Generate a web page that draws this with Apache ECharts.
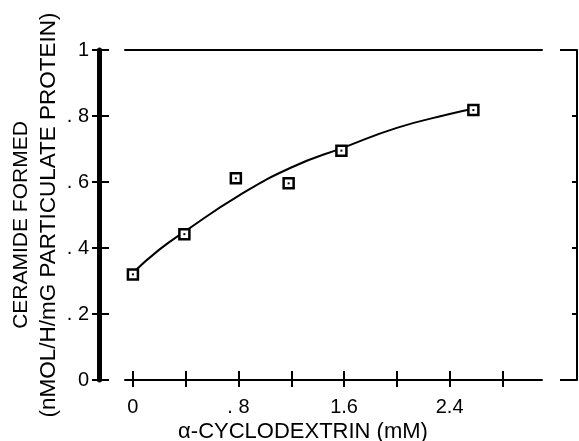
<!DOCTYPE html>
<html><head><meta charset="utf-8">
<script src="https://cdn.jsdelivr.net/npm/echarts@6/dist/echarts.min.js"></script>
<style>html,body{margin:0;padding:0;background:#fff}#c{width:579px;height:441px}</style>
</head><body><div id="c"></div>
<script>
// Data points (alpha-cyclodextrin mM, ceramide formed)
const pointX = [0, 0.39, 0.78, 1.18, 1.58, 2.58];
const pointY = [0.32, 0.442, 0.611, 0.596, 0.695, 0.818];
// Fitted curve
const curveX = [0, 0.2, 0.4, 0.8, 1.2, 1.6, 2.0, 2.4, 2.58];
const curveY = [0.325, 0.395, 0.452, 0.558, 0.644, 0.705, 0.764, 0.806, 0.822];
// Ticks and labels
const xTickValues = [0, 0.4, 0.8, 1.2, 1.6, 2.0, 2.4, 2.8];
const xLabelValues = [0, 0.8, 1.6, 2.4];
const xLabelTexts = ['0', '. 8', '1.6', '2.4'];
const yLabelValues = [0, 0.2, 0.4, 0.6, 0.8, 1];
const yLabelTexts = ['0', '. 2', '. 4', '. 6', '. 8', '1'];
const yRightTickValues = [0.2, 0.4, 0.6, 0.8];
const yRightEndValues = [0, 1];
const xTitle = 'α-CYCLODEXTRIN (mM)';
const yTitle1 = 'CERAMIDE FORMED';
const yTitle2 = '(nMOL/H/mG PARTICULATE PROTEIN)';

const FONT = "'Liberation Sans', Arial, sans-serif";
const BLACK = '#000';
function lookup(vals, texts) {
  return function (v) {
    const i = vals.findIndex(t => Math.abs(t - v) < 1e-6);
    return i >= 0 ? texts[i] : '';
  };
}
const points = pointX.map((x, i) => [x, pointY[i]]);
const curve = curveX.map((x, i) => [x, curveY[i]]);
const gridRect = { left: 125, right: 37, top: 50, bottom: 61, containLabel: false, outerBoundsMode: 'none' };
const XMIN = -0.06, XMAX = 3.1;

const chart = echarts.init(document.getElementById('c'), null, { renderer: 'canvas' });
chart.setOption({
  animation: false,
  backgroundColor: '#fff',
  grid: [
    Object.assign({}, gridRect),
    Object.assign({}, gridRect)
  ],
  xAxis: [
    {
      gridIndex: 0, type: 'value', position: 'bottom', min: XMIN, max: XMAX,
      axisLine: { show: true, onZero: false, lineStyle: { color: BLACK, width: 2 } },
      axisTick: { show: true, inside: false, length: 7, customValues: xTickValues, lineStyle: { color: BLACK, width: 2 } },
      axisLabel: { show: true, customValues: xLabelValues, formatter: lookup(xLabelValues, xLabelTexts),
        margin: 17, fontSize: 20, color: BLACK, fontFamily: FONT },
      splitLine: { show: false },
      name: xTitle, nameLocation: 'middle', nameGap: 41, nameMoveOverlap: false,
      nameTextStyle: { fontSize: 22, color: BLACK, fontFamily: FONT, padding: [0, 61, 0, 0] }
    },
    {
      gridIndex: 0, type: 'value', position: 'top', min: XMIN, max: XMAX,
      axisLine: { show: true, onZero: false, lineStyle: { color: BLACK, width: 2 } },
      axisTick: { show: false }, axisLabel: { show: false }, splitLine: { show: false }
    },
    {
      gridIndex: 1, type: 'value', position: 'bottom', min: XMIN, max: XMAX,
      axisLine: { show: false, onZero: false },
      axisTick: { show: true, inside: true, length: 9, customValues: xTickValues, lineStyle: { color: BLACK, width: 2 } },
      axisLabel: { show: false }, splitLine: { show: false }
    }
  ],
  yAxis: [
    {
      gridIndex: 0, type: 'value', position: 'left', offset: 26, min: 0, max: 1,
      axisLine: { show: true, onZero: false, lineStyle: { color: BLACK, width: 5 } },
      axisTick: { show: true, inside: false, length: 7, customValues: yLabelValues, lineStyle: { color: BLACK, width: 2 } },
      axisLabel: { show: true, customValues: yLabelValues, formatter: lookup(yLabelValues, yLabelTexts),
        margin: 10, fontSize: 20, color: BLACK, fontFamily: FONT },
      splitLine: { show: false },
      name: '{a|' + yTitle1 + '}\n{b|' + yTitle2 + '}',
      nameLocation: 'middle', nameRotate: 90, nameGap: 37, nameMoveOverlap: false,
      nameTextStyle: {
        color: BLACK, fontFamily: FONT,
        rich: {
          a: { fontSize: 21, lineHeight: 27, color: BLACK, fontFamily: FONT, padding: [0, 20, 0, 0] },
          b: { fontSize: 22.5, lineHeight: 27, color: BLACK, fontFamily: FONT }
        }
      }
    },
    {
      gridIndex: 0, type: 'value', position: 'right', offset: 35, min: 0, max: 1,
      axisLine: { show: true, onZero: false, lineStyle: { color: BLACK, width: 2 } },
      axisTick: { show: true, inside: true, length: 5, customValues: yRightTickValues, lineStyle: { color: BLACK, width: 2 } },
      axisLabel: { show: false }, splitLine: { show: false }
    },
    {
      gridIndex: 1, type: 'value', position: 'left', offset: 26, min: 0, max: 1,
      axisLine: { show: false, onZero: false },
      axisTick: { show: true, inside: true, length: 10, customValues: yLabelValues, lineStyle: { color: BLACK, width: 2 } },
      axisLabel: { show: false }, splitLine: { show: false }
    },
    {
      gridIndex: 1, type: 'value', position: 'right', offset: 35, min: 0, max: 1,
      axisLine: { show: false, onZero: false },
      axisTick: { show: true, inside: true, length: 17, customValues: yRightEndValues, lineStyle: { color: BLACK, width: 2 } },
      axisLabel: { show: false }, splitLine: { show: false }
    }
  ],
  series: [
    {
      type: 'line', xAxisIndex: 0, yAxisIndex: 0, data: curve, smooth: true,
      showSymbol: false, symbol: 'none', lineStyle: { color: BLACK, width: 2 }, z: 2
    },
    {
      type: 'scatter', xAxisIndex: 0, yAxisIndex: 0, data: points, symbol: 'rect', symbolSize: 10,
      itemStyle: { color: '#fff', borderColor: BLACK, borderWidth: 2.5, opacity: 1 }, z: 3
    },
    {
      type: 'scatter', xAxisIndex: 0, yAxisIndex: 0, data: points, symbol: 'rect', symbolSize: 2,
      itemStyle: { color: BLACK, opacity: 1 }, z: 4
    }
  ]
});
</script></body></html>
